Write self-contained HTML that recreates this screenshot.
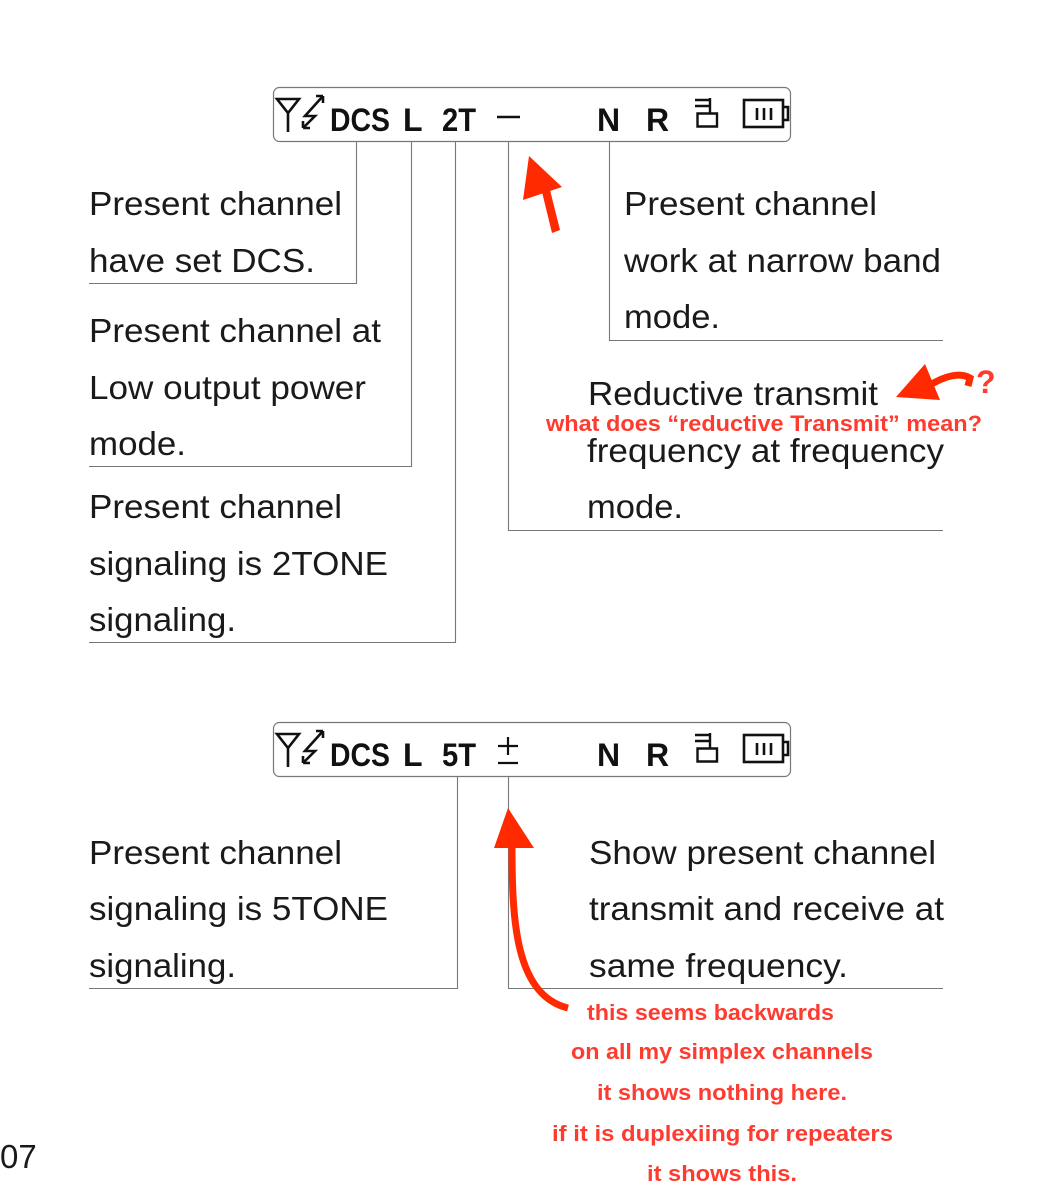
<!DOCTYPE html>
<html><head><meta charset="utf-8"><style>
html,body{margin:0;padding:0;background:#fff;}
svg{display:block;}
.t{font-family:"Liberation Sans",Arial,sans-serif;font-size:33px;fill:#1a1a1a;}
.l{font-family:"Liberation Sans",Arial,sans-serif;font-weight:bold;font-size:32px;fill:#111;}
.r{font-family:"Liberation Sans",Arial,sans-serif;font-weight:bold;font-size:22px;fill:#ff3b2f;}
</style></head><body>
<svg width="1052" height="1200" viewBox="0 0 1052 1200" xmlns="http://www.w3.org/2000/svg">
<defs>
<g id="lcd">
  <rect x="273.5" y="87.5" width="517" height="54" rx="6" fill="none" stroke="#777" stroke-width="1.2"/>
  <path d="M277 99 L299 99 L288 113 Z M288 113 L288 132" fill="none" stroke="#111" stroke-width="2.6"/>
  <path d="M323 96 L305 116 L315 116 L303 128 M323 96 L316 96 M323 96 L323 103 M303 128 L310 128 M303 128 L303 121" fill="none" stroke="#111" stroke-width="2.6"/>
  <text class="l" x="330" y="131" textLength="60" lengthAdjust="spacingAndGlyphs">DCS</text>
  <text class="l" x="403" y="131">L</text>
  <text class="l" x="597" y="131">N</text>
  <text class="l" x="646" y="131">R</text>
  <path d="M695 100 H710 M695 106 H710 M710 98 V113 M697.5 113.5 H717 V126.5 H697.5 Z" fill="none" stroke="#111" stroke-width="2.4"/>
  <rect x="744" y="100" width="39" height="27" fill="none" stroke="#111" stroke-width="2.6"/>
  <path d="M783 107 H788 V120 H783 M757 108 V120 M764 108 V120 M771 108 V120" fill="none" stroke="#111" stroke-width="2.6"/>
</g>
</defs>

<use href="#lcd"/>
<text class="l" x="442" y="131" textLength="34" lengthAdjust="spacingAndGlyphs">2T</text>
<path d="M497 117 H520" stroke="#111" stroke-width="2.6"/>

<g transform="translate(0,635)"><use href="#lcd"/></g>
<text class="l" x="442" y="766" textLength="34" lengthAdjust="spacingAndGlyphs">5T</text>
<path d="M498 746 H518 M508 737 V755 M498 763 H518" stroke="#111" stroke-width="2.2" fill="none"/>

<g fill="none" stroke="#777" stroke-width="1.1">
  <path d="M356.5 141 V283.5 H89"/>
  <path d="M411.5 141 V466.5 H89"/>
  <path d="M455.5 141 V642.5 H89"/>
  <path d="M508.5 141 V530.5 H943"/>
  <path d="M609.5 141 V340.5 H943"/>
  <path d="M457.5 776 V988.5 H89"/>
  <path d="M508.5 776 V988.5 H943"/>
</g>

<text class="t" lengthAdjust="spacingAndGlyphs" x="89" y="215" textLength="253">Present channel</text>
<text class="t" lengthAdjust="spacingAndGlyphs" x="89" y="272" textLength="226">have set DCS.</text>
<text class="t" lengthAdjust="spacingAndGlyphs" x="89" y="342" textLength="292">Present channel at</text>
<text class="t" lengthAdjust="spacingAndGlyphs" x="89" y="399" textLength="277">Low output power</text>
<text class="t" lengthAdjust="spacingAndGlyphs" x="89" y="455" textLength="97">mode.</text>
<text class="t" lengthAdjust="spacingAndGlyphs" x="89" y="518" textLength="253">Present channel</text>
<text class="t" lengthAdjust="spacingAndGlyphs" x="89" y="575" textLength="299">signaling is 2TONE</text>
<text class="t" lengthAdjust="spacingAndGlyphs" x="89" y="631" textLength="147">signaling.</text>

<text class="t" lengthAdjust="spacingAndGlyphs" x="624" y="215" textLength="253">Present channel</text>
<text class="t" lengthAdjust="spacingAndGlyphs" x="624" y="272" textLength="317">work at narrow band</text>
<text class="t" lengthAdjust="spacingAndGlyphs" x="624" y="328" textLength="96">mode.</text>

<text class="t" lengthAdjust="spacingAndGlyphs" x="588" y="405" textLength="290">Reductive transmit</text>
<text class="t" lengthAdjust="spacingAndGlyphs" x="587" y="462" textLength="357">frequency at frequency</text>
<text class="t" lengthAdjust="spacingAndGlyphs" x="587" y="518" textLength="96">mode.</text>

<text class="t" lengthAdjust="spacingAndGlyphs" x="89" y="864" textLength="253">Present channel</text>
<text class="t" lengthAdjust="spacingAndGlyphs" x="89" y="920" textLength="299">signaling is 5TONE</text>
<text class="t" lengthAdjust="spacingAndGlyphs" x="89" y="977" textLength="147">signaling.</text>
<text class="t" lengthAdjust="spacingAndGlyphs" x="589" y="864" textLength="347">Show present channel</text>
<text class="t" lengthAdjust="spacingAndGlyphs" x="589" y="920" textLength="355">transmit and receive at</text>
<text class="t" lengthAdjust="spacingAndGlyphs" x="589" y="977" textLength="259">same frequency.</text>

<text class="r" lengthAdjust="spacingAndGlyphs" x="546" y="431" textLength="436">what does “reductive Transmit” mean?</text>
<text class="r" lengthAdjust="spacingAndGlyphs" x="587" y="1020" textLength="247">this seems backwards</text>
<text class="r" lengthAdjust="spacingAndGlyphs" x="571" y="1059" textLength="302">on all my simplex channels</text>
<text class="r" lengthAdjust="spacingAndGlyphs" x="597" y="1100" textLength="250">it shows nothing here.</text>
<text class="r" lengthAdjust="spacingAndGlyphs" x="552" y="1141" textLength="341">if it is duplexiing for repeaters</text>
<text class="r" lengthAdjust="spacingAndGlyphs" x="647" y="1181" textLength="150">it shows this.</text>

<text class="t" x="0" y="1168">07</text>

<g fill="#ff2a00" stroke="none">
  <path d="M529 156 L523 200 L562 187 Z"/>
  <path d="M542 192 L550 190 L560 230 L552 233 Z"/>
  <path d="M896 397 L925 364 L940 400 Z"/>
  <path d="M508 808 L494 848 L534 848 Z"/>
</g>
<path d="M930 385 C945 376 960 372 970 378 L968 386" fill="none" stroke="#ff2a00" stroke-width="7"/>
<text x="976" y="393" font-family="Liberation Sans,sans-serif" font-weight="bold" font-size="32" fill="#ff3b2f">?</text>
<path d="M512 845 C512 920 515 995 568 1008" fill="none" stroke="#ff2a00" stroke-width="7"/>
</svg>
</body></html>
